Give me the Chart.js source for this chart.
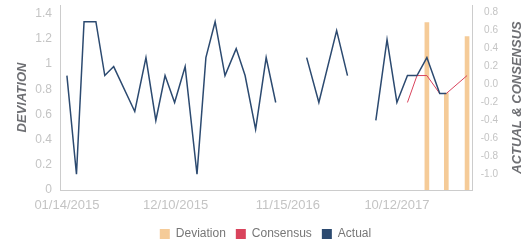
<!DOCTYPE html>
<html>
<head>
<meta charset="utf-8">
<script src="https://cdn.jsdelivr.net/npm/chart.js@4.4.1/dist/chart.umd.min.js"></script>
<style>
  html, body { margin: 0; padding: 0; background: #fff; }
  #wrap { width: 531px; height: 250px; }
</style>
</head>
<body>
<div id="wrap"><canvas id="chart" width="531" height="250"></canvas></div>
<script>
// --- data ---
const actualDates = ['2015-01-14','2015-02-12','2015-03-07','2015-04-12','2015-05-09','2015-06-05',
  '2015-08-08','2015-09-11','2015-10-11','2015-11-08','2015-12-07','2016-01-08',
  '2016-02-13','2016-03-11','2016-04-08','2016-05-08','2016-06-11','2016-07-08',
  '2016-08-09','2016-09-10','2016-10-09','2016-11-15','2016-12-13','2017-01-11',
  '2017-02-17','2017-04-12','2017-05-15','2017-06-12','2017-07-12','2017-08-09',
  '2017-09-12','2017-10-12','2017-11-13','2017-12-12','2018-01-11','2018-02-19','2018-03-11'];
const actualValues = [0.1,-1.0,0.7,0.7,0.1,0.2,
  -0.3,0.3,-0.4,0.1,-0.2,0.2,
  -1.0,0.3,0.7,0.1,0.4,0.1,
  -0.5,0.3,-0.2,null,null,0.3,
  -0.2,0.6,0.1,null,null,-0.4,
  0.5,-0.2,0.1,0.1,0.3,-0.1,-0.1];

const consensusDates = ['2017-11-13','2017-12-12','2018-01-11','2018-02-19','2018-03-11','2018-05-13'];
const consensusValues = [-0.2, 0.1, 0.1, -0.1, -0.1, 0.1];

const deviationDates = ['2018-01-11','2018-03-11','2018-05-13'];
const deviationValues = [1.33, 0.77, 1.22];

const xTickDates = ['2015-01-14','2015-12-10','2016-11-15','2017-10-12'];
const leftTicks = [0, 0.2, 0.4, 0.6, 0.8, 1, 1.2, 1.4];
const rightTicks = [-1.0, -0.8, -0.6, -0.4, -0.2, 0, 0.2, 0.4, 0.6, 0.8];

const leftTitle = 'DEVIATION';
const rightTitle = 'ACTUAL & CONSENSUS';

// --- helpers ---
function toMs(s) {
  const p = s.split('-');
  return Date.UTC(+p[0], +p[1] - 1, +p[2]);
}
function fmtDate(v) {
  const d = new Date(v);
  const mm = String(d.getUTCMonth() + 1).padStart(2, '0');
  const dd = String(d.getUTCDate()).padStart(2, '0');
  return mm + '/' + dd + '/' + d.getUTCFullYear();
}
function pairs(dates, vals) {
  return dates.map((d, i) => ({ x: toMs(d), y: vals[i] }));
}

const FONT = '"Liberation Sans", Arial, sans-serif';
const tickGrey = '#c4c4c4';
const axisGrey = '#cccccc';
const titleGrey = '#6e6f73';
const RIGHT_PAD = 33;

// right title reads bottom-to-top in the reference, so draw it here.
// the right layout padding is only there to right-align the y1 labels,
// so the legend gets moved back to the middle of the canvas
const rightTitlePlugin = {
  id: 'rightTitle',
  afterLayout(chart) {
    chart.legend.left += RIGHT_PAD / 2;
    chart.legend.right += RIGHT_PAD / 2;
  },
  afterDraw(chart) {
    const s = chart.scales.y1;
    const c = chart.ctx;
    c.save();
    c.translate(chart.width - 14, (s.top + s.bottom) / 2);
    c.rotate(-Math.PI / 2);
    c.font = 'italic bold 13px ' + FONT;
    c.fillStyle = titleGrey;
    c.textAlign = 'center';
    c.textBaseline = 'middle';
    c.fillText(rightTitle, 0, 0);
    c.restore();
  }
};

const ctx = document.getElementById('chart');
const myChart = new Chart(ctx, {
  type: 'bar',
  data: {
    datasets: [
      {
        type: 'bar',
        label: 'Deviation',
        data: pairs(deviationDates, deviationValues),
        backgroundColor: '#f5cb98',
        barThickness: 4,
        yAxisID: 'y',
        order: 3
      },
      {
        type: 'line',
        label: 'Consensus',
        data: pairs(consensusDates, consensusValues),
        borderColor: '#d9435c',
        backgroundColor: '#d9435c',
        borderWidth: 1,
        pointRadius: 0,
        tension: 0,
        yAxisID: 'y1',
        order: 2
      },
      {
        type: 'line',
        label: 'Actual',
        data: pairs(actualDates, actualValues),
        borderColor: '#2c4a70',
        backgroundColor: '#2c4a70',
        borderWidth: 1.5,
        pointRadius: 0,
        tension: 0,
        spanGaps: false,
        yAxisID: 'y1',
        order: 1
      }
    ]
  },
  options: {
    responsive: false,
    animation: false,
    events: [],
    layout: { padding: { top: 5, left: 0, right: RIGHT_PAD, bottom: 0 } },
    scales: {
      x: {
        type: 'linear',
        offset: false,
        min: toMs('2014-12-24'),
        max: toMs('2018-05-28'),
        grid: { display: false, drawTicks: false },
        border: { display: true, color: axisGrey },
        afterBuildTicks(s) { s.ticks = xTickDates.map(d => ({ value: toMs(d) })); },
        afterFit(s) { s.height = 28; s.paddingLeft = 0; s.paddingRight = 0; },
        ticks: {
          autoSkip: false,
          maxRotation: 0,
          padding: 8,
          color: tickGrey,
          font: { family: FONT, size: 13 },
          callback: v => fmtDate(v)
        }
      },
      y: {
        position: 'left',
        min: 0,
        max: 1.47,
        grid: { display: false, drawTicks: false },
        border: { display: true, color: axisGrey },
        afterBuildTicks(s) { s.ticks = leftTicks.map(v => ({ value: v })); },
        afterFit(s) { s.width = 60; s.paddingTop = 0; s.paddingBottom = 0; },
        ticks: {
          padding: 8,
          color: tickGrey,
          font: { family: FONT, size: 12 },
          callback: v => String(+v.toFixed(2))
        },
        title: {
          display: true,
          text: leftTitle,
          color: titleGrey,
          padding: { top: 15, bottom: 0 },
          font: { family: FONT, size: 13, style: 'italic', weight: 'bold' }
        }
      },
      y1: {
        position: 'right',
        min: -1.175,
        max: 0.886,
        grid: { display: false, drawTicks: false },
        border: { display: true, color: axisGrey },
        afterBuildTicks(s) { s.ticks = rightTicks.map(v => ({ value: v })); },
        afterFit(s) { s.width = 26; s.paddingTop = 0; s.paddingBottom = 0; },
        ticks: {
          padding: 9,
          crossAlign: 'far',
          color: tickGrey,
          font: { family: FONT, size: 10 },
          callback: v => v.toFixed(1)
        }
      }
    },
    plugins: {
      tooltip: { enabled: false },
      legend: {
        position: 'bottom',
        labels: {
          boxWidth: 10,
          boxHeight: 10,
          padding: 10,
          color: '#777777',
          font: { family: FONT, size: 12 },
          sort: (a, b) => a.datasetIndex - b.datasetIndex,
          generateLabels(chart) {
            return Chart.defaults.plugins.legend.labels.generateLabels(chart).map(l => {
              const ds = chart.data.datasets[l.datasetIndex];
              l.fillStyle = ds.type === 'line' ? ds.borderColor : ds.backgroundColor;
              l.lineWidth = 0;
              l.strokeStyle = 'rgba(0,0,0,0)';
              return l;
            });
          }
        }
      }
    }
  },
  plugins: [rightTitlePlugin]
});
</script>
</body>
</html>
